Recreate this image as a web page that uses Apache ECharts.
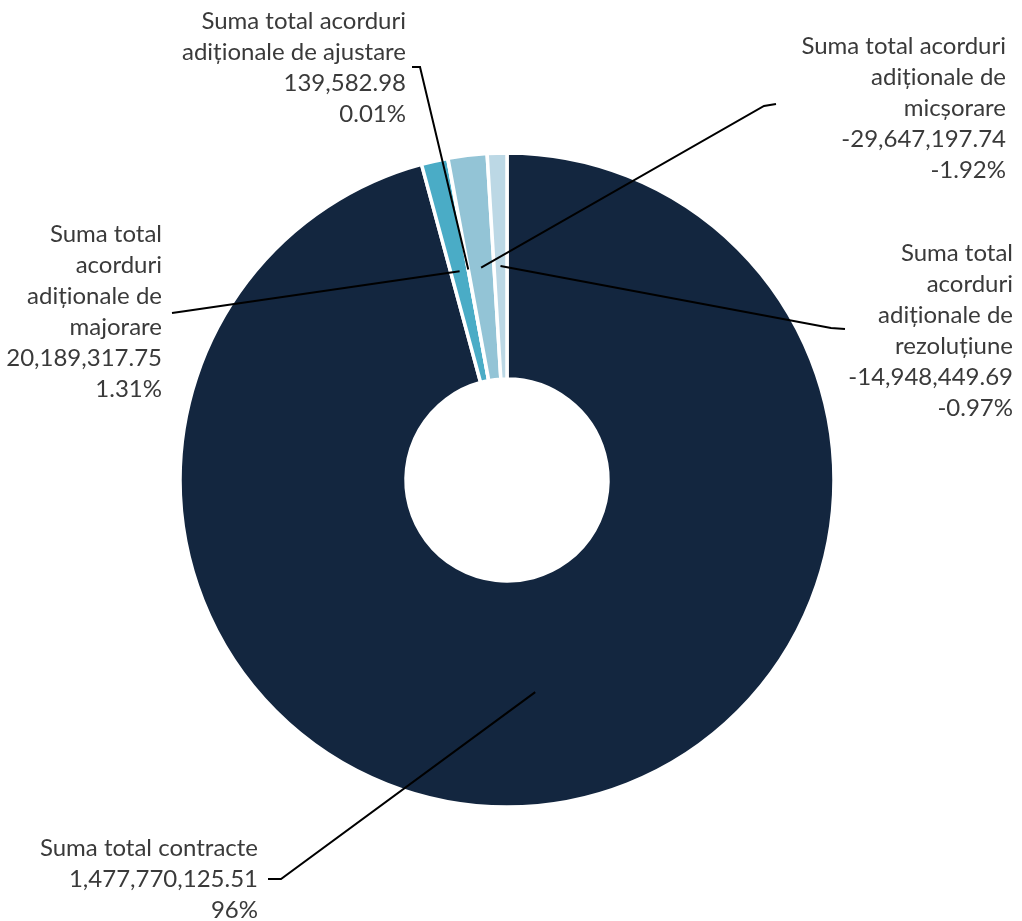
<!DOCTYPE html>
<html>
<head>
<meta charset="utf-8">
<script src="https://cdn.jsdelivr.net/npm/echarts@6/dist/echarts.min.js"></script>
<style>
html,body{margin:0;padding:0;background:#fff;}
#chart{width:1022px;height:921px;}
</style>
</head>
<body>
<div id="chart"></div>
<script>
// ---- data ----
const categories = [
  'Suma total contracte',
  'Suma total\nacorduri\nadiționale de\nmajorare',
  'Suma total acorduri\nadiționale de ajustare',
  'Suma total acorduri\nadiționale de\nmicșorare',
  'Suma total\nacorduri\nadiționale de\nrezoluțiune'
];
const values = [1477770125.51, 20189317.75, 139582.98, -29647197.74, -14948449.69];
const valueLabels = ['1,477,770,125.51', '20,189,317.75', '139,582.98', '-29,647,197.74', '-14,948,449.69'];
const percentLabels = ['96%', '1.31%', '0.01%', '-1.92%', '-0.97%'];
const colors = ['#13263f', '#4aacc6', '#2f6f8f', '#93c4d6', '#bcd8e5'];

// ---- layout (positions of label furniture) ----
const CX = 507, CY = 480, R0 = 101, R1 = 327;
// [labelRightX, labelCenterY, lineEndX, lineEndY, bendX, bendY]
const labelPos = [
  [258, 879, 268, 879, 281, 879],
  [162, 312, 172, 313, 186, 311],
  [406, 68, 412, 67, 420, 67],
  [1006, 108, 776, 104, 764, 106],
  [1013, 331, 845, 329, 831, 328]
];

const absVals = values.map(v => Math.abs(v));
const total = absVals.reduce((a, b) => a + b, 0);
const anchors = [];
let cum = 0;
absVals.forEach(v => {
  const mid = (cum + v / 2) / total * Math.PI * 2;
  const rm = (R0 + R1) / 2;
  anchors.push([CX + rm * Math.sin(mid), CY - rm * Math.cos(mid)]);
  cum += v;
});

const leaderLines = labelPos.map((p, i) => ({
  type: 'polyline',
  z: 100,
  silent: true,
  shape: {points: [anchors[i], [p[4], p[5]], [p[2], p[3]]]},
  style: {stroke: '#000000', lineWidth: 2, fill: null}
}));

const chart = echarts.init(document.getElementById('chart'), null, {renderer: 'canvas'});
chart.setOption({
  animation: false,
  backgroundColor: '#ffffff',
  graphic: leaderLines,
  series: [{
    type: 'pie',
    center: [CX, CY],
    radius: [R0, R1],
    startAngle: 90,
    clockwise: true,
    avoidLabelOverlap: false,
    data: categories.map((c, i) => ({
      name: c,
      value: absVals[i],
      itemStyle: {color: colors[i]}
    })),
    itemStyle: {borderColor: '#ffffff', borderWidth: 3.5},
    label: {
      show: true,
      position: 'outside',
      formatter: p => categories[p.dataIndex] + '\n' + valueLabels[p.dataIndex] + '\n' + percentLabels[p.dataIndex],
      fontFamily: 'Lato',
      fontSize: 24,
      lineHeight: 31,
      color: '#3a3a3a',
      align: 'right'
    },
    labelLine: {show: false},
    labelLayout: function (params) {
      const p = labelPos[params.dataIndex];
      return {
        x: p[0],
        y: p[1],
        align: 'right',
        verticalAlign: 'middle',
        hideOverlap: false
      };
    },
    emphasis: {disabled: true}
  }]
});
</script>
</body>
</html>
